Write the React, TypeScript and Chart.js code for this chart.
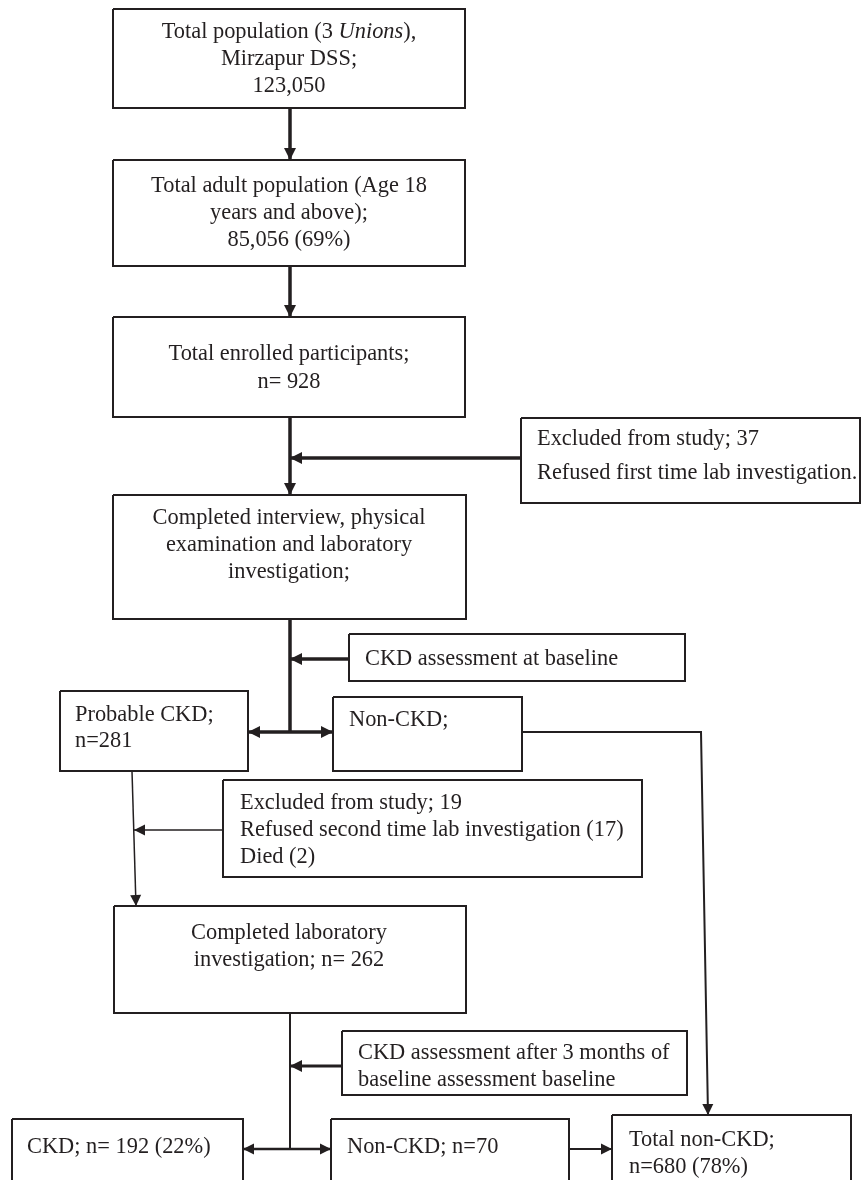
import { useEffect, useRef } from "react";
import { Chart, registerables } from "chart.js";

Chart.register(...registerables);

const CANVAS_W = 862;
const CANVAS_H = 1180;
const INK = "#231f20";
const FONT_FAMILY = '"Liberation Serif", "Times New Roman", serif';
const FONT_SIZE = 22.4;

// ---------- content (text of each step; _x_ = italic) ----------
const stepText: string[][] = [
  ["Total population (3 _Unions_),", "Mirzapur DSS;", "123,050"],
  ["Total adult population (Age 18", "years and above);", "85,056 (69%)"],
  ["Total enrolled participants;", "n= 928"],
  ["Excluded from study; 37", "Refused first time lab investigation."],
  ["Completed interview, physical", "examination and laboratory", "investigation;"],
  ["CKD assessment at baseline"],
  ["Probable CKD;", "n=281"],
  ["Non-CKD;"],
  ["Excluded from study; 19", "Refused second time lab investigation (17)", "Died (2)"],
  ["Completed laboratory", "investigation; n= 262"],
  ["CKD assessment after 3 months of", "baseline assessment baseline"],
  ["CKD; n= 192 (22%)"],
  ["Non-CKD; n=70"],
  ["Total non-CKD;", "n=680 (78%)"],
];

// ---------- layout (chart units == px of the figure) ----------
const stepRect: number[][] = [
  [113, 9, 465, 108],
  [113, 160, 465, 266],
  [113, 317, 465, 417],
  [521, 418, 860, 503],
  [113, 495, 466, 619],
  [349, 634, 685, 681],
  [60, 691, 248, 771],
  [333, 697, 522, 771],
  [223, 780, 642, 877],
  [114, 906, 466, 1013],
  [342, 1031, 687, 1095],
  [12, 1119, 243, 1200],
  [331, 1119, 569, 1200],
  [612, 1115, 851, 1200],
];
const stepAlign = ["center", "center", "center", "left", "center", "left", "left", "left", "left", "center", "left", "left", "left", "left"];
const stepTextX = [289, 289, 289, 537, 289, 365, 75, 349, 240, 289, 358, 27, 347, 629];
const stepFirstLine = [32, 186, 354, 439, 518, 659, 715, 720, 803, 933, 1053, 1147, 1147, 1140];
const stepLineGap = [27, 27, 28, 34, 27, 27, 26, 27, 27, 27, 27, 27, 27, 27];

const linkPoints: number[][][] = [
  [[290, 108], [290, 160]],
  [[290, 266], [290, 317]],
  [[290, 417], [290, 495]],
  [[521, 458], [290, 458]],
  [[290, 619], [290, 732]],
  [[349, 659], [290, 659]],
  [[290, 732], [248, 732]],
  [[290, 732], [333, 732]],
  [[522, 732], [701, 732], [708, 1115]],
  [[132, 771], [136, 906]],
  [[223, 830], [134, 830]],
  [[290, 1013], [290, 1149]],
  [[342, 1066], [290, 1066]],
  [[290, 1149], [243, 1149]],
  [[290, 1149], [331, 1149]],
  [[569, 1149], [612, 1149]],
];
const linkWidth = [3.5, 3.5, 3.5, 3.5, 3.5, 3.5, 3.5, 3.5, 2, 1.5, 1.5, 2, 3, 2.5, 2.5, 2];
const linkArrow = [true, true, true, true, false, true, true, true, true, true, true, false, true, true, true, true];

function drawRichLine(ctx: CanvasRenderingContext2D, text: string, x: number, y: number, align: string) {
  const parts = text.split("_").map((t, i) => ({ t, italic: i % 2 === 1 }));
  const fontFor = (it: boolean) => `${it ? "italic " : ""}${FONT_SIZE}px ${FONT_FAMILY}`;
  let total = 0;
  parts.forEach((p) => {
    ctx.font = fontFor(p.italic);
    total += ctx.measureText(p.t).width;
  });
  let cx = align === "center" ? x - total / 2 : x;
  parts.forEach((p) => {
    ctx.font = fontFor(p.italic);
    ctx.fillText(p.t, cx, y);
    cx += ctx.measureText(p.t).width;
  });
}

const flowPlugin = {
  id: "flowText",
  afterDatasetsDraw(chart: any) {
    const { ctx } = chart;
    const xs = chart.scales.x;
    const ys = chart.scales.y;
    ctx.save();
    // arrowheads
    chart.data.datasets.forEach((ds: any) => {
      if (!ds.arrowEnd) return;
      const d = ds.data;
      const a = d[d.length - 2];
      const b = d[d.length - 1];
      const ax = xs.getPixelForValue(a.x), ay = ys.getPixelForValue(a.y);
      const bx = xs.getPixelForValue(b.x), by = ys.getPixelForValue(b.y);
      const ang = Math.atan2(by - ay, bx - ax);
      const L = ds.borderWidth >= 3 ? 12 : 11;
      const hw = ds.borderWidth >= 3 ? 6 : 5.5;
      ctx.fillStyle = INK;
      ctx.beginPath();
      ctx.moveTo(bx, by);
      ctx.lineTo(bx - L * Math.cos(ang) + hw * Math.sin(ang), by - L * Math.sin(ang) - hw * Math.cos(ang));
      ctx.lineTo(bx - L * Math.cos(ang) - hw * Math.sin(ang), by - L * Math.sin(ang) + hw * Math.cos(ang));
      ctx.closePath();
      ctx.fill();
    });
    // texts
    ctx.fillStyle = INK;
    ctx.textBaseline = "middle";
    ctx.textAlign = "left";
    stepText.forEach((lines, i) => {
      lines.forEach((line, j) => {
        const px = xs.getPixelForValue(stepTextX[i]);
        const py = ys.getPixelForValue(stepFirstLine[i] + j * stepLineGap[i]);
        drawRichLine(ctx, line, px, py, stepAlign[i]);
      });
    });
    ctx.restore();
  },
};

export default function App() {
  const canvasRef = useRef<HTMLCanvasElement | null>(null);

  useEffect(() => {
    document.body.style.margin = "0";
    const canvas = canvasRef.current;
    if (!canvas) return;

    const boxSets = stepRect.map((r) => ({
      data: [
        { x: r[0], y: r[1] },
        { x: r[2], y: r[1] },
        { x: r[2], y: r[3] },
        { x: r[0], y: r[3] },
        { x: r[0], y: r[1] },
      ],
      showLine: true,
      borderColor: INK,
      borderWidth: 2,
      pointRadius: 0,
      fill: false,
      tension: 0,
      clip: false as any,
    }));
    const linkSets = linkPoints.map((pts, i) => ({
      data: pts.map((p) => ({ x: p[0], y: p[1] })),
      showLine: true,
      borderColor: INK,
      borderWidth: linkWidth[i],
      pointRadius: 0,
      fill: false,
      tension: 0,
      arrowEnd: linkArrow[i],
      clip: false as any,
    }));

    const chart = new Chart(canvas, {
      type: "scatter",
      data: { datasets: [...boxSets, ...linkSets] as any },
      options: {
        animation: false,
        responsive: false,
        maintainAspectRatio: false,
        devicePixelRatio: 1,
        layout: { padding: 0 },
        plugins: { legend: { display: false }, tooltip: { enabled: false }, title: { display: false } },
        scales: {
          x: { type: "linear", min: 0, max: CANVAS_W, display: false },
          y: { type: "linear", min: 0, max: CANVAS_H, reverse: true, display: false },
        },
        events: [],
      },
      plugins: [flowPlugin],
    });
    return () => chart.destroy();
  }, []);

  return (
    <div style={{ width: CANVAS_W, height: CANVAS_H, background: "#fff" }}>
      <canvas ref={canvasRef} width={CANVAS_W} height={CANVAS_H} style={{ display: "block" }} />
    </div>
  );
}
